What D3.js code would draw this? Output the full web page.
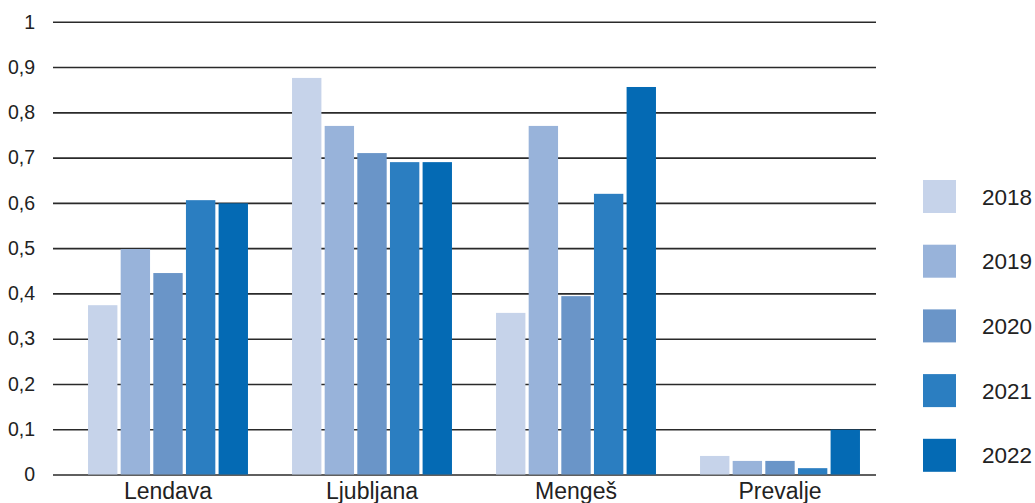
<!DOCTYPE html>
<html>
<head>
<meta charset="utf-8">
<script src="https://cdn.jsdelivr.net/npm/d3@7"></script>
<style>
  html, body { margin: 0; padding: 0; background: #fff; }
  svg { display: block; }
  text { font-family: "Liberation Sans", Arial, Helvetica, sans-serif; fill: #222; }
</style>
</head>
<body>
<svg id="chart" width="1035" height="503"></svg>
<script>
// Municipalities shown on the x axis
const categories = ["Lendava", "Ljubljana", "Mengeš", "Prevalje"];
// Years (series)
const years = ["2018", "2019", "2020", "2021", "2022"];
// Values per year, in the order of the categories above
const values2018 = [0.374, 0.876, 0.357, 0.041];
const values2019 = [0.498, 0.770, 0.770, 0.030];
const values2020 = [0.445, 0.710, 0.394, 0.030];
const values2021 = [0.606, 0.690, 0.620, 0.014];
const values2022 = [0.599, 0.690, 0.856, 0.099];
const yTicks = [0, 0.1, 0.2, 0.3, 0.4, 0.5, 0.6, 0.7, 0.8, 0.9, 1];
const colors = ["#c6d3ea", "#98b3da", "#6a95c8", "#2b7ec1", "#046ab4"];

const seriesValues = [values2018, values2019, values2020, values2021, values2022];
const rows = categories.map((c, i) => ({
  category: c,
  bars: years.map((y, j) => ({ year: y, value: seriesValues[j][i] }))
}));

const svg = d3.select("#chart");

const gridLeft = 53, gridRight = 876;
const y = d3.scaleLinear().domain([0, 1]).range([474.5, 21.8]);

const x0 = d3.scaleBand().domain(categories).range([66, 882])
  .paddingInner(0.216).paddingOuter(0.108);
const x1 = d3.scaleBand().domain(years).range([0, x0.bandwidth()])
  .paddingInner(0.1).paddingOuter(0);
const color = d3.scaleOrdinal().domain(years).range(colors);

// Horizontal gridlines with tick labels
const fmt = v => (v === 0 ? "0" : v === 1 ? "1" : d3.format(".1f")(v).replace(".", ","));
const yAxis = d3.axisLeft(y).tickValues(yTicks).tickFormat(fmt)
  .tickSize(-(gridRight - gridLeft)).tickPadding(18);
const gy = svg.append("g").attr("transform", `translate(${gridLeft},0)`).call(yAxis);
gy.select(".domain").remove();
gy.selectAll(".tick line").attr("stroke", "#2a2a2a").attr("stroke-width", 1.6);
gy.selectAll(".tick text").attr("font-size", 19.5).attr("fill", "#222")
  .attr("font-family", "Liberation Sans, Arial, sans-serif");

// Bars
const groups = svg.append("g").selectAll("g").data(rows).join("g")
  .attr("transform", d => `translate(${x0(d.category)},0)`);
groups.selectAll("rect").data(d => d.bars).join("rect")
  .attr("x", d => x1(d.year))
  .attr("width", x1.bandwidth())
  .attr("y", d => y(d.value))
  .attr("height", d => y(0) - y(d.value))
  .attr("fill", d => color(d.year));

// Category labels
const xAxis = d3.axisBottom(x0).tickSize(0).tickPadding(0);
const gx = svg.append("g").attr("transform", "translate(0,483)").call(xAxis);
gx.select(".domain").remove();
gx.selectAll(".tick text").attr("font-size", 23).attr("fill", "#222")
  .attr("dy", "0.71em").attr("font-family", "Liberation Sans, Arial, sans-serif");

// Legend
const legend = svg.append("g").selectAll("g").data(years).join("g")
  .attr("transform", (d, i) => `translate(923,${180 + i * 64.7})`);
legend.append("rect").attr("width", 33).attr("height", 33).attr("fill", d => color(d));
legend.append("text").attr("x", 59).attr("y", 16.5).attr("dy", "0.36em")
  .attr("font-size", 22.5).text(d => d);
</script>
</body>
</html>
